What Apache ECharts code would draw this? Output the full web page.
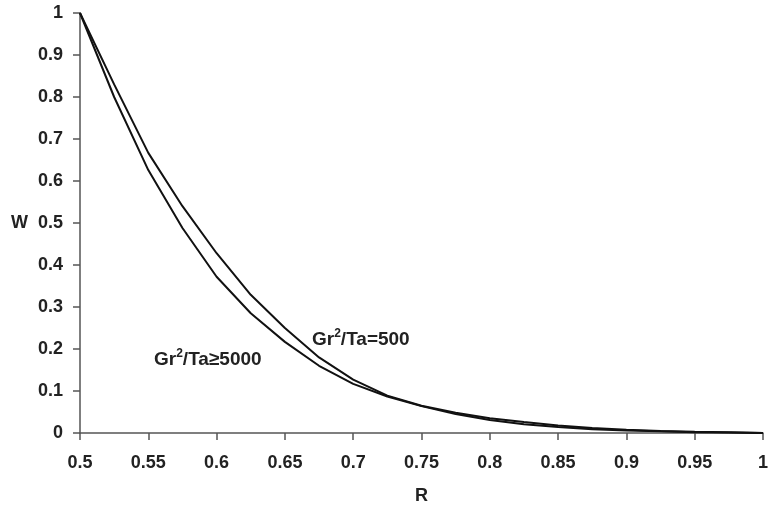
<!DOCTYPE html>
<html>
<head>
<meta charset="utf-8">
<script src="https://cdn.jsdelivr.net/npm/echarts@6/dist/echarts.min.js"></script>
<style>
  html, body { margin: 0; padding: 0; background: #fff; }
  #chart { width: 768px; height: 508px; }
</style>
</head>
<body>
<div id="chart"></div>
<script>
// R values sampled along both curves
const rValues = [0.5, 0.525, 0.55, 0.575, 0.6, 0.625, 0.65, 0.675, 0.7, 0.725, 0.75,
  0.775, 0.8, 0.825, 0.85, 0.875, 0.9, 0.925, 0.95, 0.975, 1];
// Gr^2/Ta = 500
const w500 = [1, 0.83, 0.667, 0.54, 0.428, 0.329, 0.25, 0.18, 0.127, 0.089, 0.065,
  0.048, 0.035, 0.026, 0.018, 0.012, 0.008, 0.005, 0.003, 0.0015, 0];
// Gr^2/Ta >= 5000
const w5000 = [1, 0.8, 0.626, 0.488, 0.372, 0.285, 0.217, 0.16, 0.117, 0.087, 0.064,
  0.045, 0.031, 0.021, 0.014, 0.009, 0.006, 0.004, 0.002, 0.001, 0];

const font = 'Liberation Sans, Arial, sans-serif';
const ink = '#222';

const chart = echarts.init(document.getElementById('chart'), null, { renderer: 'canvas' });

const pair = (ys) => rValues.map((r, i) => [r, ys[i]]);

const richLabel = {
  b: { fontFamily: font, fontWeight: 'bold', fontSize: 19, fill: ink, verticalAlign: 'bottom' },
  s: { fontFamily: font, fontWeight: 'bold', fontSize: 12, fill: ink, verticalAlign: 'top', padding: [0, 0, 9, 0] }
};

chart.setOption({
  animation: false,
  grid: { left: 80, right: 5, top: 13, bottom: 75, outerBoundsMode: 'none', containLabel: false },
  xAxis: {
    type: 'value', min: 0.5, max: 1, interval: 0.05,
    name: 'R', nameLocation: 'middle', nameGap: 54,
    nameTextStyle: { fontFamily: font, fontWeight: 'bold', fontSize: 18, color: ink },
    axisLine: { lineStyle: { color: '#555', width: 1.5 } },
    axisTick: { length: 7, lineStyle: { color: '#555', width: 1.5 } },
    axisLabel: { margin: 21, fontFamily: font, fontWeight: 'bold', fontSize: 18, color: ink,
      formatter: (v) => String(+v.toFixed(2)) },
    splitLine: { show: false }
  },
  yAxis: {
    type: 'value', min: 0, max: 1, interval: 0.1,
    name: 'W', nameLocation: 'middle', nameGap: 52, nameRotate: 0,
    nameTextStyle: { fontFamily: font, fontWeight: 'bold', fontSize: 18, color: ink },
    axisLine: { show: true, lineStyle: { color: '#555', width: 1.5 } },
    axisTick: { show: true, length: 7, lineStyle: { color: '#555', width: 1.5 } },
    axisLabel: { margin: 17, fontFamily: font, fontWeight: 'bold', fontSize: 18, color: ink,
      formatter: (v) => String(+v.toFixed(1)) },
    splitLine: { show: false }
  },
  series: [
    { name: 'Gr2/Ta=500', type: 'line', data: pair(w500), showSymbol: false,
      lineStyle: { color: '#111', width: 2 } },
    { name: 'Gr2/Ta>=5000', type: 'line', data: pair(w5000), showSymbol: false,
      lineStyle: { color: '#111', width: 2 } }
  ],
  graphic: [
    { type: 'text', left: 312, top: 328,
      style: { text: '{b|Gr}{s|2}{b|/Ta=500}', fill: ink, rich: richLabel } },
    { type: 'text', left: 154, top: 348,
      style: { text: '{b|Gr}{s|2}{b|/Ta≥5000}', fill: ink, rich: richLabel } }
  ]
});
</script>
</body>
</html>
